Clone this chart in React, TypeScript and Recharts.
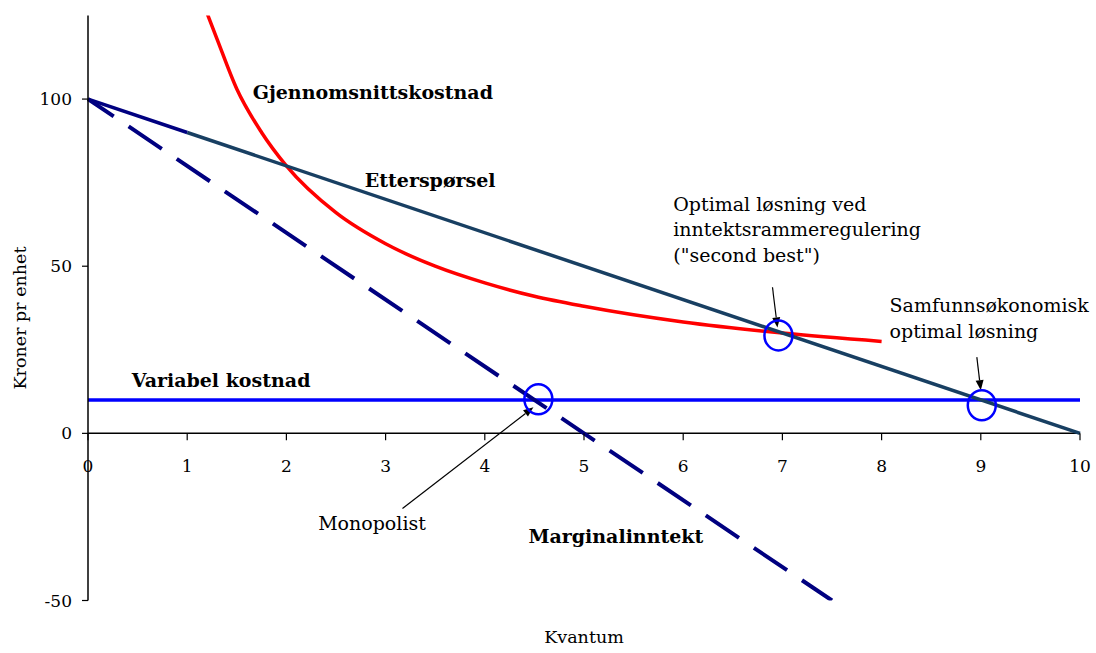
import { Line, LineChart, ReferenceDot, ReferenceLine, XAxis, YAxis } from "recharts";

// Kvantum / pris – monopol, regulering og samfunnsøkonomisk optimum
const quantityTicks = [0, 1, 2, 3, 4, 5, 6, 7, 8, 9, 10];
const priceTicks = [-50, 0, 50, 100];

const demandStartQ = [0, 1];
const demandStartP = [100, 90];
const demandQ = [1, 10];
const demandP = [90, 0];

const marginalQ = [0, 7.5];
const marginalP = [100, -50];

const avgCostQ = [1.17, 1.3, 1.5, 1.75, 2, 2.5, 3, 3.5, 4, 4.5, 5, 6, 7, 8];
const avgCostP = [128, 118, 103, 90, 80, 66, 56.7, 50, 45, 41, 38, 33.3, 30, 27.5];

const varCostQ = [0, 10];
const varCostP = [10, 10];

const markerQ = [4.54, 6.96, 9.01];
const markerP = [10.2, 29.3, 8.4];

const boldLabels = ["Gjennomsnittskostnad", "Etterspørsel", "Variabel kostnad", "Marginalinntekt"];
const boldLabelQ = [1.66, 2.79, 0.44, 4.44];
const boldLabelP = [100, 73.7, 13.9, -32.9];

const notes = [
  ["Monopolist"],
  ["Optimal løsning ved", "inntektsrammeregulering", '("second best")'],
  ["Samfunnsøkonomisk", "optimal løsning"],
];
const noteQ = [2.32, 5.9, 8.08];
const noteP = [-29, 66.6, 36.3];

const arrowFromQ = [3.17, 6.9, 8.96];
const arrowFromP = [-22.5, 43.7, 22.8];
const arrowToQ = [4.49, 6.95, 9.0];
const arrowToP = [7.8, 31.7, 12.9];

const zip = (qs: number[], ps: number[]) => qs.map((q, i) => ({ q, p: ps[i] }));

const FONT = '"DejaVu Serif", serif';

function XTick(props: any) {
  const { cx, cy, value } = props;
  return (
    <g>
      <line x1={cx} y1={cy} x2={cx} y2={cy + 7} stroke="#000" strokeWidth={1.2} />
      <text x={cx} y={cy + 39} textAnchor="middle" fontSize={17} fill="#000" style={{ fontFamily: FONT }}>
        {value}
      </text>
    </g>
  );
}

function TextBlock(props: any) {
  const { cx, cy, lines, bold } = props;
  const size = bold ? 19 : 19;
  return (
    <text
      x={cx}
      y={cy}
      fontSize={size}
      fontWeight={bold ? "bold" : "normal"}
      fill="#000"
      style={{ fontFamily: FONT }}
    >
      {lines.map((l: string, i: number) => (
        <tspan key={i} x={cx} dy={i === 0 ? 0 : 25.5}>
          {l}
        </tspan>
      ))}
    </text>
  );
}

function Arrow(props: any) {
  const { x1, y1, x2, y2 } = props;
  const a = Math.atan2(y2 - y1, x2 - x1);
  const len = 10;
  const w = 4;
  const bx = x2 - len * Math.cos(a);
  const by = y2 - len * Math.sin(a);
  const px = -Math.sin(a) * w;
  const py = Math.cos(a) * w;
  return (
    <g>
      <line x1={x1} y1={y1} x2={bx} y2={by} stroke="#000" strokeWidth={1.2} />
      <polygon points={`${x2},${y2} ${bx + px},${by + py} ${bx - px},${by - py}`} fill="#000" />
    </g>
  );
}

function Marker(props: any) {
  const { cx, cy } = props;
  return <ellipse cx={cx} cy={cy} rx={14} ry={15} fill="none" stroke="#0000FF" strokeWidth={2.5} />;
}

export default function App() {
  return (
    <div style={{ position: "absolute", left: 0, top: 0, width: 1096, height: 653, background: "#fff", fontFamily: FONT }}>
      <LineChart width={1096} height={653} margin={{ top: 15.5, right: 16, bottom: 0, left: 0 }} style={{ fontFamily: FONT }}>
        <XAxis
          dataKey="q"
          type="number"
          domain={[0, 10]}
          ticks={quantityTicks}
          height={52.5}
          axisLine={false}
          tickLine={false}
          tick={false}
          label={{ value: "Kvantum", position: "insideBottom", offset: 10, fontSize: 17.5, fill: "#000", style: { fontFamily: FONT } }}
        />
        <YAxis
          type="number"
          domain={[-50, 125]}
          allowDataOverflow
          ticks={priceTicks}
          width={88}
          tickSize={6}
          tickMargin={10}
          axisLine={{ stroke: "#000", strokeWidth: 1.5 }}
          tickLine={{ stroke: "#000", strokeWidth: 1.2 }}
          tick={{ fontSize: 17, fill: "#000", style: { fontFamily: FONT } }}
          label={{
            content: (lp: any) => {
              const vb = lp.viewBox;
              const x = vb.x + 20;
              const y = vb.y + vb.height / 2 + 10;
              return (
                <text
                  transform={`translate(${x}, ${y}) rotate(-90)`}
                  textAnchor="middle"
                  dominantBaseline="central"
                  fontSize={17.5}
                  fill="#000"
                  style={{ fontFamily: FONT }}
                >
                  Kroner pr enhet
                </text>
              );
            },
          }}
        />

        <ReferenceLine y={0} stroke="#000" strokeWidth={1.5} />
        {quantityTicks.map((t) => (
          <ReferenceDot key={`xt${t}`} x={t} y={0} r={0} shape={(p: any) => <XTick {...p} value={t} />} />
        ))}

        <Line data={zip(varCostQ, varCostP)} dataKey="p" stroke="#0000FF" strokeWidth={3.5} dot={false} activeDot={false} isAnimationActive={false} />
        <Line data={zip(avgCostQ, avgCostP)} dataKey="p" type="monotone" stroke="#FF0000" strokeWidth={3.5} dot={false} activeDot={false} isAnimationActive={false} />
        <Line data={zip(demandQ, demandP)} dataKey="p" stroke="#183F62" strokeWidth={3.5} dot={false} activeDot={false} isAnimationActive={false} />
        <Line data={zip(demandStartQ, demandStartP)} dataKey="p" stroke="#000080" strokeWidth={3.5} dot={false} activeDot={false} isAnimationActive={false} />
        <Line
          data={zip(marginalQ, marginalP)}
          dataKey="p"
          stroke="#000080"
          strokeWidth={4}
          strokeDasharray="40 18"
          strokeDashoffset={9}
          dot={false}
          activeDot={false}
          isAnimationActive={false}
        />

        {markerQ.map((q, i) => (
          <ReferenceDot key={`m${i}`} x={q} y={markerP[i]} r={14} shape={(p: any) => <Marker {...p} />} />
        ))}

        {arrowFromQ.map((q, i) => (
          <ReferenceLine
            key={`a${i}`}
            segment={[
              { x: q, y: arrowFromP[i] },
              { x: arrowToQ[i], y: arrowToP[i] },
            ]}
            shape={(p: any) => <Arrow {...p} />}
          />
        ))}

        {boldLabels.map((l, i) => (
          <ReferenceDot key={`b${i}`} x={boldLabelQ[i]} y={boldLabelP[i]} r={0} shape={(p: any) => <TextBlock {...p} lines={[l]} bold />} />
        ))}
        {notes.map((lines, i) => (
          <ReferenceDot key={`n${i}`} x={noteQ[i]} y={noteP[i]} r={0} shape={(p: any) => <TextBlock {...p} lines={lines} />} />
        ))}
      </LineChart>
    </div>
  );
}
